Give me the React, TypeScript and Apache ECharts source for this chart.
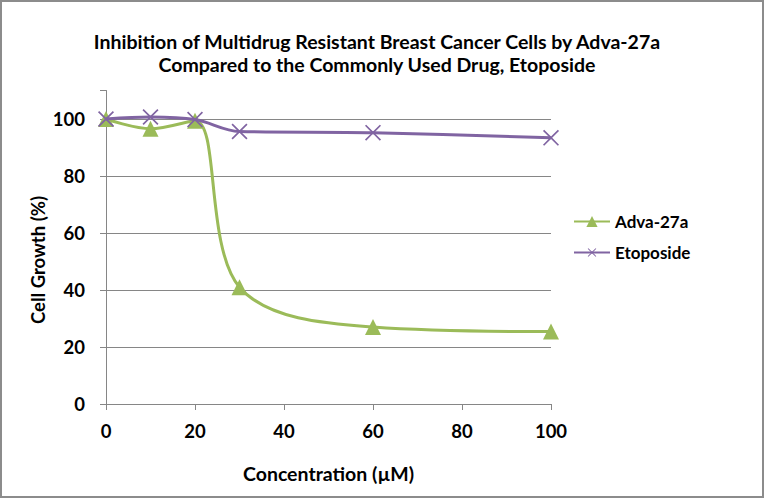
import React, { useEffect, useRef } from "react";
import * as echarts from "echarts";

const concentrations = [0, 10, 20, 30, 60, 100];
const advaValues = [100, 96.6, 99.4, 41, 27, 25.4];
const etoposideValues = [100, 100.7, 99.8, 95.6, 95.2, 93.4];
const yGridValues = [20, 40, 60, 80, 100];
const yTickLabels = ["0", "20", "40", "60", "80", "100"];

const FONT = "Lato";
const GREEN = "#9BBB59";
const PURPLE = "#8064A2";
const AXIS = "#868686";

const xSymbol = "path://M9.2,0H10.8V9.2H20V10.8H10.8V20H9.2V10.8H0V9.2H9.2Z";

export default function App() {
  const ref = useRef<HTMLDivElement>(null);
  useEffect(() => {
    document.body.style.margin = "0";
    const chart = echarts.init(ref.current!, null, { renderer: "svg" });
    const mk = (vals: number[]) => concentrations.map((c, i) => [c, vals[i]]);
    chart.setOption({
      animation: false,
      backgroundColor: "#ffffff",
      title: {
        text: "Inhibition of Multidrug Resistant Breast Cancer Cells by Adva-27a\nCompared to the Commonly Used Drug, Etoposide",
        left: 372,
        top: 25,
        textAlign: "center",
        textStyle: {
          fontFamily: FONT,
          fontWeight: "bold",
          fontSize: 19.5,
          color: "#000",
          lineHeight: 23,
        },
      },
      legend: {
        orient: "vertical",
        left: 568,
        top: 208,
        itemWidth: 36,
        itemHeight: 14,
        itemGap: 14,
        textStyle: { fontFamily: FONT, fontWeight: "bold", fontSize: 17, color: "#000" },
        data: ["Adva-27a", "Etoposide"],
      },
      grid: { left: 106, right: 213, top: 90.5, bottom: 94 },
      xAxis: {
        type: "value",
        min: 0,
        max: 100,
        interval: 20,
        axisLine: { show: true, lineStyle: { color: AXIS, width: 1 } },
        axisTick: { show: true, length: 6, lineStyle: { color: AXIS } },
        splitLine: { show: false },
        axisLabel: {
          margin: 17,
          fontFamily: FONT,
          fontWeight: "bold",
          fontSize: 18.5,
          color: "#000",
        },
        name: "Concentration (µM)",
        nameLocation: "middle",
        nameGap: 59,
        nameTextStyle: { fontFamily: FONT, fontWeight: "bold", fontSize: 19.5, color: "#000" },
      },
      yAxis: {
        type: "value",
        min: 0,
        max: 110,
        interval: 20,
        axisLine: { show: true, lineStyle: { color: AXIS, width: 1 } },
        axisTick: { show: true, length: 6, lineStyle: { color: AXIS } },
        splitLine: { show: false },
        axisLabel: {
          margin: 21,
          fontFamily: FONT,
          fontWeight: "bold",
          fontSize: 18.5,
          color: "#000",
          formatter: (v: number) => (yTickLabels.includes(String(v)) ? String(v) : ""),
        },
      },
      graphic: [
        {
          type: "rect",
          shape: { x: 1, y: 1, width: 762, height: 496 },
          style: { fill: "none", stroke: "#8c8c8c", lineWidth: 2 },
          silent: true,
        },
        {
          type: "text",
          x: 38,
          y: 260,
          rotation: Math.PI / 2,
          style: {
            text: "Cell Growth (%)",
            fontFamily: FONT,
            fontWeight: "bold",
            fontSize: 18.5,
            fill: "#000",
            align: "center",
            verticalAlign: "middle",
          },
        },
      ],
      series: [
        {
          name: "Etoposide",
          type: "line",
          data: mk(etoposideValues),
          smooth: 0.35,
          symbol: xSymbol,
          symbolRotate: 45,
          symbolSize: 21,
          color: PURPLE,
          lineStyle: { width: 3, color: PURPLE },
          itemStyle: { color: PURPLE },
          z: 3,
          markLine: {
            silent: true,
            symbol: "none",
            label: { show: false },
            lineStyle: { color: AXIS, width: 1, type: "solid" },
            data: yGridValues.map((v) => ({ yAxis: v })),
            z: 1,
          },
        },
        {
          name: "Adva-27a",
          type: "line",
          data: mk(advaValues),
          smooth: 0.35,
          symbol: "triangle",
          symbolSize: 16,
          color: GREEN,
          lineStyle: { width: 3, color: GREEN },
          itemStyle: { color: GREEN },
          z: 2,
        },
      ],
    });
    return () => chart.dispose();
  }, []);
  return (
    <div
      ref={ref}
      style={{ position: "fixed", left: 0, top: 0, width: 764, height: 498 }}
    />
  );
}
